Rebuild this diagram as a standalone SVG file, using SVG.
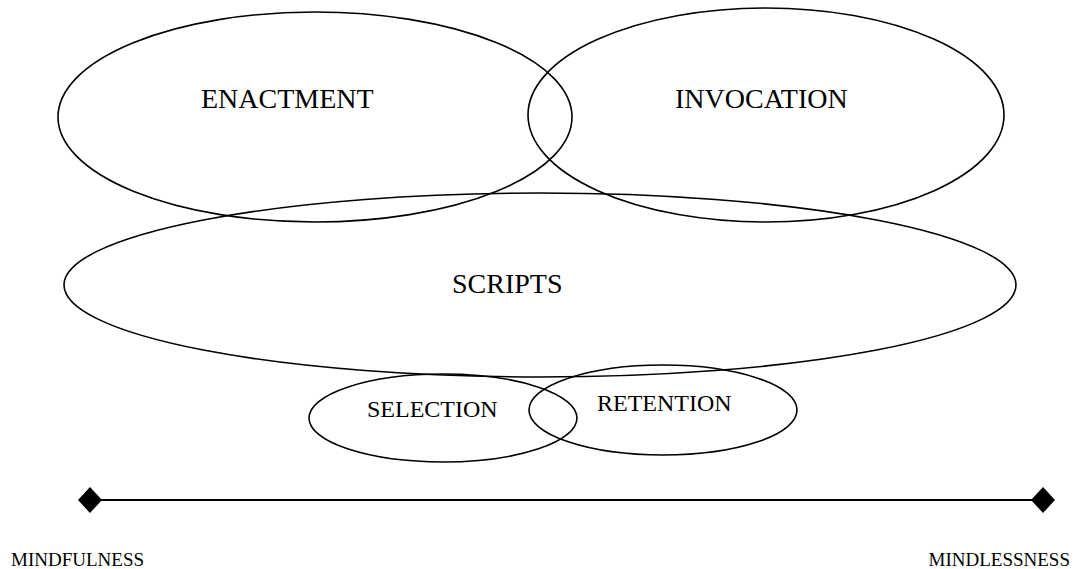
<svg xmlns="http://www.w3.org/2000/svg" width="1073" height="569" viewBox="0 0 1073 569">
<style>
.e{fill:none;stroke:#000;stroke-width:1.6}
.t{font-family:"Liberation Serif","Times New Roman",serif;fill:#000}
.big{font-size:28px}
.mid{font-size:24px}
.small{font-size:19px}
.dia{fill:#000}
</style>
<rect width="1073" height="569" fill="#fff"/>
<g id="enactment"><ellipse class="e" cx="315" cy="117" rx="257" ry="105"/><text class="t big" x="201" y="108">ENACTMENT</text></g>
<g id="invocation"><ellipse class="e" cx="766" cy="115" rx="238" ry="107"/><text class="t big" x="675" y="108">INVOCATION</text></g>
<g id="scripts"><ellipse class="e" cx="540" cy="285" rx="476" ry="92"/><text class="t big" x="452" y="293">SCRIPTS</text></g>
<g id="selection"><ellipse class="e" cx="443" cy="418" rx="134" ry="44"/><text class="t mid" x="367" y="417">SELECTION</text></g>
<g id="retention"><ellipse class="e" cx="663" cy="410" rx="134" ry="45"/><text class="t mid" x="597" y="411">RETENTION</text></g>
<g id="connectors"><line x1="90" y1="500" x2="1043" y2="500" stroke="#000" stroke-width="2"/><path class="dia" d="M78 500L90 487L102 500L90 513Z"/><path class="dia" d="M1031 500L1043 487L1055 500L1043 513Z"/></g>
<g id="labels"><text class="t small" x="11" y="566">MINDFULNESS</text><text class="t small" x="1070" y="566" text-anchor="end">MINDLESSNESS</text></g>
</svg>
